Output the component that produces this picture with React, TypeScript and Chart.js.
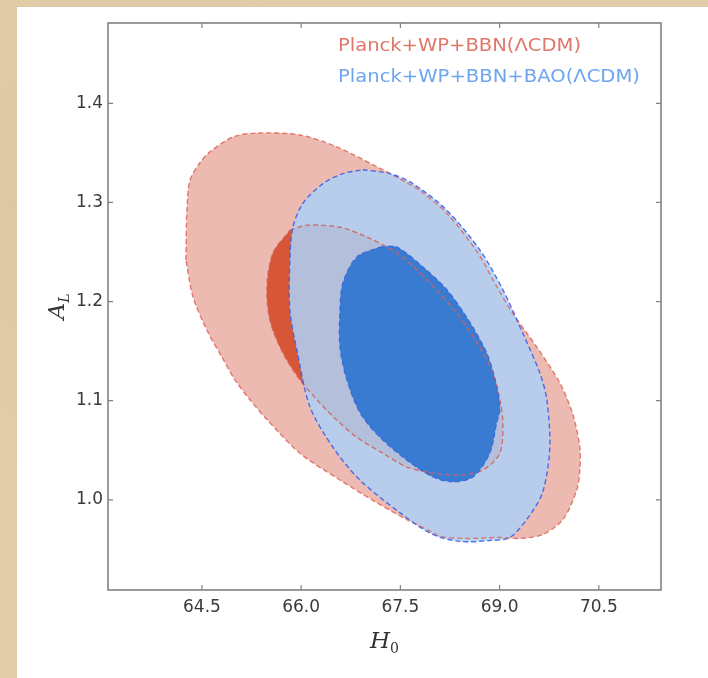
import React, { useEffect, useRef } from "react";
import { Chart, registerables } from "chart.js";

Chart.register(...registerables);

// Axis ranges and tick values
const H0_TICKS = [64.5, 66.0, 67.5, 69.0, 70.5];
const AL_TICKS = [1.0, 1.1, 1.2, 1.3, 1.4];
const H0_MIN = 63.08;
const H0_MAX = 71.44;
const AL_MIN = 0.909;
const AL_MAX = 1.481;

const SERIES_NAMES = ["Planck+WP+BBN(ΛCDM)", "Planck+WP+BBN+BAO(ΛCDM)"];

// Planck+WP+BBN, 95% credible region
const bbn95H0 = [64.258, 64.273, 64.319, 64.47, 64.621, 64.969, 65.331, 65.981, 66.54, 67.145, 67.598, 67.795, 68.203, 68.671, 68.958, 69.2, 69.563, 69.91, 70.107, 70.213, 70.213, 70.167, 69.956, 69.653, 69.306, 69.004, 68.505, 68.097, 67.991, 67.598, 67.145, 66.586, 65.981, 65.482, 65.225, 64.999, 64.802, 64.576, 64.364];
const bbn95AL = [1.242, 1.292, 1.322, 1.34, 1.351, 1.366, 1.37, 1.368, 1.356, 1.336, 1.32, 1.312, 1.289, 1.249, 1.215, 1.188, 1.154, 1.118, 1.086, 1.053, 1.03, 1.01, 0.98, 0.965, 0.961, 0.962, 0.961, 0.963, 0.967, 0.98, 0.997, 1.02, 1.047, 1.081, 1.101, 1.121, 1.144, 1.171, 1.205];

// Planck+WP+BBN, 68% credible region
const bbn68H0 = [65.83, 66.087, 66.586, 66.994, 67.447, 67.9, 68.354, 68.701, 68.898, 69.004, 69.049, 69.004, 68.747, 68.399, 67.991, 67.598, 67.235, 66.842, 66.48, 66.238, 65.981, 65.724, 65.528, 65.482, 65.573];
const bbn68AL = [1.272, 1.277, 1.275, 1.265, 1.249, 1.222, 1.188, 1.154, 1.128, 1.101, 1.078, 1.047, 1.03, 1.025, 1.027, 1.033, 1.047, 1.063, 1.084, 1.101, 1.121, 1.148, 1.181, 1.215, 1.249];

// Planck+WP+BBN+BAO, 95% credible region
const bao95H0 = [66.933, 67.341, 67.689, 68.203, 68.701, 69.049, 69.351, 69.608, 69.714, 69.759, 69.653, 69.43, 69.155, 68.852, 68.399, 67.991, 67.492, 66.888, 66.48, 66.132, 65.936, 65.83, 65.83, 65.875, 66.026, 66.329, 66.631];
const bao95AL = [1.333, 1.329, 1.319, 1.292, 1.252, 1.212, 1.168, 1.128, 1.101, 1.053, 1.008, 0.982, 0.962, 0.959, 0.958, 0.965, 0.987, 1.02, 1.053, 1.094, 1.151, 1.191, 1.242, 1.275, 1.299, 1.319, 1.329];

// Planck+WP+BBN+BAO, 68% credible region
const bao68H0 = [67.19, 67.447, 67.84, 68.203, 68.505, 68.807, 68.958, 69.004, 68.958, 68.852, 68.596, 68.293, 67.991, 67.598, 67.19, 66.888, 66.691, 66.586, 66.586, 66.631, 66.842];
const bao68AL = [1.255, 1.255, 1.235, 1.212, 1.184, 1.148, 1.114, 1.091, 1.078, 1.047, 1.023, 1.018, 1.023, 1.04, 1.063, 1.088, 1.121, 1.154, 1.191, 1.219, 1.245];

const W = 708;
const H = 678;

function closedContour(xs: number[], ys: number[]) {
  const pts = xs.map((x, i) => ({ x, y: ys[i] }));
  pts.push({ x: xs[0], y: ys[0] });
  return pts;
}

function region(data: { x: number; y: number }[], color: string, order: number) {
  return {
    type: "line" as const,
    data,
    fill: "shape",
    backgroundColor: color,
    borderWidth: 0,
    borderColor: "rgba(0,0,0,0)",
    pointRadius: 0,
    tension: 0.3,
    order,
  };
}

function outline(data: { x: number; y: number }[], color: string, width: number, order: number) {
  return {
    type: "line" as const,
    data,
    fill: false,
    borderColor: color,
    borderWidth: width,
    borderDash: [5, 3],
    pointRadius: 0,
    tension: 0.3,
    order,
  };
}

function fittedText(ctx: CanvasRenderingContext2D, text: string, x: number, y: number, width: number) {
  const w = ctx.measureText(text).width;
  ctx.save();
  ctx.translate(x, y);
  ctx.scale(width / w, 1);
  ctx.fillText(text, 0, 0);
  ctx.restore();
}

const framePlugin = {
  id: "frameAndLabels",
  afterDraw(chart: any) {
    const { ctx, chartArea: a, scales } = chart;
    ctx.save();
    ctx.strokeStyle = "#828282";
    ctx.lineWidth = 1.6;
    ctx.strokeRect(a.left, a.top, a.right - a.left, a.bottom - a.top);

    // inward tick marks on all four sides
    ctx.lineWidth = 1.2;
    const tl = 5;
    ctx.beginPath();
    H0_TICKS.forEach((v) => {
      const px = scales.x.getPixelForValue(v);
      ctx.moveTo(px, a.bottom);
      ctx.lineTo(px, a.bottom - tl);
      ctx.moveTo(px, a.top);
      ctx.lineTo(px, a.top + tl);
    });
    AL_TICKS.forEach((v) => {
      const py = scales.y.getPixelForValue(v);
      ctx.moveTo(a.left, py);
      ctx.lineTo(a.left + tl, py);
      ctx.moveTo(a.right, py);
      ctx.lineTo(a.right - tl, py);
    });
    ctx.stroke();

    // legend text
    ctx.textBaseline = "middle";
    ctx.textAlign = "left";
    ctx.font = "17px 'DejaVu Sans'";
    ctx.fillStyle = "#E0776B";
    fittedText(ctx, SERIES_NAMES[0], 338, 47, 243);
    ctx.fillStyle = "#6EA5EE";
    fittedText(ctx, SERIES_NAMES[1], 338, 78, 302);

    // axis titles
    ctx.fillStyle = "#333333";
    const cx = (a.left + a.right) / 2;
    ctx.font = "italic 23px 'DejaVu Serif'";
    const hw = ctx.measureText("H").width;
    ctx.font = "14px 'DejaVu Serif'";
    const sw = ctx.measureText("0").width;
    const x0 = cx - (hw + sw) / 2;
    ctx.font = "italic 23px 'DejaVu Serif'";
    ctx.textBaseline = "alphabetic";
    ctx.fillText("H", x0, 648);
    ctx.font = "14px 'DejaVu Serif'";
    ctx.fillText("0", x0 + hw, 653);

    ctx.save();
    ctx.translate(64, (a.top + a.bottom) / 2);
    ctx.rotate(-Math.PI / 2);
    ctx.font = "italic 23px 'DejaVu Serif'";
    const aw = ctx.measureText("A").width;
    ctx.font = "italic 14px 'DejaVu Serif'";
    const lw = ctx.measureText("L").width;
    const ax = -(aw + lw) / 2;
    ctx.font = "italic 23px 'DejaVu Serif'";
    ctx.fillText("A", ax, 0);
    ctx.font = "italic 14px 'DejaVu Serif'";
    ctx.fillText("L", ax + aw, 5);
    ctx.restore();

    ctx.restore();
  },
};

export default function App() {
  const canvasRef = useRef<HTMLCanvasElement | null>(null);

  useEffect(() => {
    const canvas = canvasRef.current;
    if (!canvas) return;

    const bbn95 = closedContour(bbn95H0, bbn95AL);
    const bbn68 = closedContour(bbn68H0, bbn68AL);
    const bao95 = closedContour(bao95H0, bao95AL);
    const bao68 = closedContour(bao68H0, bao68AL);

    const tickFont = { family: "'DejaVu Sans'", size: 17 };

    const chart = new Chart(canvas, {
      type: "line",
      data: {
        datasets: [
          region(bbn95, "#EDBAB2", 20),
          region(bbn68, "#D85638", 19),
          region(bao95, "rgba(175,208,244,0.87)", 18),
          region(bao68, "#3A7BD2", 17),
          outline(bbn95, "rgba(224,100,88,0.85)", 1.4, 4),
          outline(bbn68, "rgba(214,96,88,0.85)", 1.4, 3),
          outline(bao95, "rgba(62,96,232,0.9)", 1.4, 2),
          outline(bao68, "rgba(52,98,222,0.85)", 1.2, 1),
        ] as any,
      },
      options: {
        animation: false,
        responsive: false,
        devicePixelRatio: 1,
        layout: { padding: { top: 23, right: 47, left: 0, bottom: 0 } },
        plugins: {
          legend: { display: false },
          tooltip: { enabled: false },
        },
        scales: {
          x: {
            type: "linear",
            min: H0_MIN,
            max: H0_MAX,
            afterBuildTicks: (s: any) => {
              s.ticks = H0_TICKS.map((v) => ({ value: v }));
            },
            afterFit: (s: any) => {
              s.height = 88;
            },
            ticks: {
              callback: (v: any) => Number(v).toFixed(1),
              font: tickFont,
              color: "#3a3a3a",
              padding: 7,
              maxRotation: 0,
              autoSkip: false,
            },
            grid: { display: false, drawTicks: false },
            border: { display: false },
          },
          y: {
            type: "linear",
            min: AL_MIN,
            max: AL_MAX,
            afterBuildTicks: (s: any) => {
              s.ticks = AL_TICKS.map((v) => ({ value: v }));
            },
            afterFit: (s: any) => {
              s.width = 108;
            },
            ticks: {
              callback: (v: any) => Number(v).toFixed(1),
              font: tickFont,
              color: "#3a3a3a",
              padding: 5,
              autoSkip: false,
            },
            grid: { display: false, drawTicks: false },
            border: { display: false },
          },
        },
      },
      plugins: [framePlugin],
    });

    return () => chart.destroy();
  }, []);

  return (
    <div
      style={{
        position: "fixed",
        left: 0,
        top: 0,
        width: W,
        height: H,
        overflow: "hidden",
        background:
          "radial-gradient(circle at 20% 30%, rgba(205,180,140,0.35), rgba(0,0,0,0) 40%), radial-gradient(circle at 70% 80%, rgba(240,222,190,0.4), rgba(0,0,0,0) 45%), #E2CDAA",
      }}
    >
      <div
        style={{
          position: "absolute",
          left: 17,
          top: 7,
          right: 0,
          bottom: 0,
          background: "#ffffff",
        }}
      />
      <canvas
        ref={canvasRef}
        width={W}
        height={H}
        style={{ position: "absolute", left: 0, top: 0, width: W, height: H }}
      />
    </div>
  );
}
